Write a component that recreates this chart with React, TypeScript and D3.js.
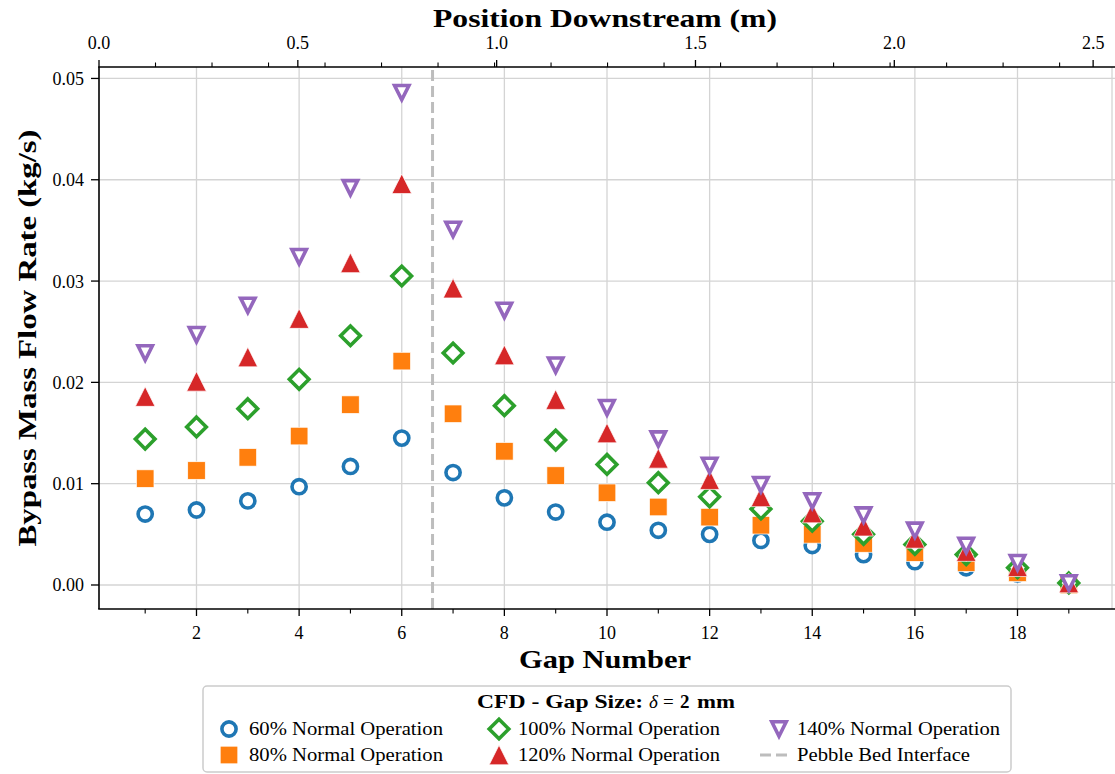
import React from 'react';
import * as d3 from 'd3';

// ---------- data ----------
const gapNumbers = [1, 2, 3, 4, 5, 6, 7, 8, 9, 10, 11, 12, 13, 14, 15, 16, 17, 18, 19];
const flow60 = [0.0070, 0.0074, 0.0083, 0.0097, 0.0117, 0.0145, 0.0111, 0.0086, 0.0072, 0.0062, 0.0054, 0.0050, 0.0044, 0.0039, 0.0030, 0.0023, 0.0017, 0.0011, 0.0001];
const flow80 = [0.0105, 0.0113, 0.0126, 0.0147, 0.0178, 0.0221, 0.0169, 0.0132, 0.0108, 0.0091, 0.0077, 0.0067, 0.0059, 0.0050, 0.0041, 0.0032, 0.0022, 0.0012, 0.0000];
const flow100 = [0.0144, 0.0156, 0.0174, 0.0203, 0.0246, 0.0305, 0.0229, 0.0177, 0.0143, 0.0119, 0.0101, 0.0087, 0.0075, 0.0063, 0.0050, 0.0040, 0.0030, 0.0017, 0.0002];
const flow120 = [0.0186, 0.0201, 0.0225, 0.0263, 0.0318, 0.0396, 0.0293, 0.0227, 0.0183, 0.0150, 0.0125, 0.0104, 0.0087, 0.0071, 0.0058, 0.0046, 0.0033, 0.0018, 0.0002];
const flow140 = [0.0229, 0.0247, 0.0276, 0.0324, 0.0392, 0.0486, 0.0351, 0.0271, 0.0217, 0.0175, 0.0144, 0.0118, 0.0099, 0.0083, 0.0069, 0.0054, 0.0039, 0.0022, 0.0002];

const seriesLabels = ['60% Normal Operation', '80% Normal Operation', '100% Normal Operation', '120% Normal Operation', '140% Normal Operation'];
const interfaceLabel = 'Pebble Bed Interface';
const interfaceGap = 6.6;

const bottomMajorTicks = [2, 4, 6, 8, 10, 12, 14, 16, 18];
const bottomMinorTicks = [1, 3, 5, 7, 9, 11, 13, 15, 17, 19];
const yTicks = [0, 0.01, 0.02, 0.03, 0.04, 0.05];
const yTickLabels = ['0.00', '0.01', '0.02', '0.03', '0.04', '0.05'];
const topMajorTicks = [0, 0.5, 1.0, 1.5, 2.0, 2.5];
const topTickLabels = ['0.0', '0.5', '1.0', '1.5', '2.0', '2.5'];
const topMinorTicks = [0.1421, 0.2842, 0.4263, 0.5684, 0.7105, 0.8526, 0.9947, 1.1368, 1.2789, 1.421, 1.5631, 1.7052, 1.8473, 1.9894, 2.1315, 2.2736, 2.4157];

// ---------- styles ----------
const W = 1115, H = 774;
const L = 99, R = 1115, T = 67, B = 609;
const FONT = "'Liberation Serif', 'DejaVu Serif', serif";
const COLORS = ['#1f77b4', '#ff7f0e', '#2ca02c', '#d62728', '#9467bd'];
const MARKERS = ['circle', 'square', 'diamond', 'triUp', 'triDown'];
const GRID = '#d4d4d4';
const SW = 3.6;

const x = d3.scaleLinear().domain([0.1, 19.9]).range([L, R]);
const xTop = d3.scaleLinear().domain([0, 2.555]).range([L, R]);
const y = d3.scaleLinear().domain([-0.00237, 0.05113]).range([B, T]);

function Marker({ type, cx, cy, color }: { type: string; cx: number; cy: number; color: string }) {
  if (type === 'circle') {
    return <circle cx={cx} cy={cy} r={7.1} fill="#fff" stroke={color} strokeWidth={SW} />;
  }
  if (type === 'square') {
    return <rect x={cx - 8.8} y={cy - 8.8} width={17.6} height={17.6} fill={color} stroke="#fff" strokeWidth={0.7} />;
  }
  if (type === 'diamond') {
    const s = 9.8;
    return (
      <path d={`M${cx},${cy - s}L${cx + s},${cy}L${cx},${cy + s}L${cx - s},${cy}Z`} fill="#fff" stroke={color} strokeWidth={SW} strokeLinejoin="miter" />
    );
  }
  if (type === 'triUp') {
    const s = 9.8;
    return (
      <path d={`M${cx},${cy - s}L${cx + s},${cy + s}L${cx - s},${cy + s}Z`} fill={color} stroke="#fff" strokeWidth={0.7} />
    );
  }
  const s = 7.2;
  return (
    <path d={`M${cx - s},${cy - s}L${cx + s},${cy - s}L${cx},${cy + s}Z`} fill="#fff" stroke={color} strokeWidth={SW} strokeLinejoin="miter" />
  );
}

export default function App() {
  const allSeries = [flow60, flow80, flow100, flow120, flow140];

  const legendCols = [
    { mx: 229, tx: 249, len: [194, 194] },
    { mx: 499, tx: 518, len: [202, 202] },
    { mx: 779, tx: 797, len: [203, 173] },
  ];
  const legendRows = [729, 755];
  const legendItems: { col: number; row: number; kind: string; idx: number; label: string }[] = [
    { col: 0, row: 0, kind: 'series', idx: 0, label: seriesLabels[0] },
    { col: 0, row: 1, kind: 'series', idx: 1, label: seriesLabels[1] },
    { col: 1, row: 0, kind: 'series', idx: 2, label: seriesLabels[2] },
    { col: 1, row: 1, kind: 'series', idx: 3, label: seriesLabels[3] },
    { col: 2, row: 0, kind: 'series', idx: 4, label: seriesLabels[4] },
    { col: 2, row: 1, kind: 'line', idx: -1, label: interfaceLabel },
  ];

  return (
    <svg width={W} height={H} style={{ position: 'absolute', left: 0, top: 0, background: '#fff' }} fontFamily={FONT}>
      <rect x={0} y={0} width={W} height={H} fill="#fff" />
      {/* grid */}
      <g>
        {bottomMajorTicks.map((t) => (
          <line key={'gx' + t} x1={x(t)} x2={x(t)} y1={T} y2={B} stroke={GRID} strokeWidth={1.3} />
        ))}
        {yTicks.map((t) => (
          <line key={'gy' + t} x1={L} x2={R} y1={y(t)} y2={y(t)} stroke={GRID} strokeWidth={1.3} />
        ))}
        <line x1={1112} x2={1112} y1={T} y2={B} stroke={GRID} strokeWidth={1.3} />
      </g>

      {/* interface line */}
      <line x1={x(interfaceGap)} x2={x(interfaceGap)} y1={B} y2={T} stroke="#bdbdbd" strokeWidth={3} strokeDasharray="11 5" />

      {/* markers */}
      {allSeries.map((vals, si) => (
        <g key={'s' + si}>
          {vals.map((v, i) => (
            <Marker key={i} type={MARKERS[si]} cx={x(gapNumbers[i])} cy={y(v)} color={COLORS[si]} />
          ))}
        </g>
      ))}

      {/* spines */}
      <line x1={L} x2={L} y1={T} y2={B} stroke="#000" strokeWidth={1.6} />
      <line x1={L - 0.8} x2={R} y1={B} y2={B} stroke="#000" strokeWidth={1.6} />
      <line x1={L - 0.8} x2={R} y1={T} y2={T} stroke="#000" strokeWidth={1.6} />

      {/* left axis */}
      {yTicks.map((t, i) => (
        <g key={'yt' + t}>
          <line x1={L - 8} x2={L} y1={y(t)} y2={y(t)} stroke="#000" strokeWidth={1.3} />
          <text x={L - 15} y={y(t) + 6.5} textAnchor="end" fontSize={18}>{yTickLabels[i]}</text>
        </g>
      ))}

      {/* bottom axis */}
      {bottomMajorTicks.map((t) => (
        <g key={'bt' + t}>
          <line x1={x(t)} x2={x(t)} y1={B} y2={B + 7} stroke="#000" strokeWidth={1.3} />
          <text x={x(t)} y={639} textAnchor="middle" fontSize={18}>{String(t)}</text>
        </g>
      ))}
      {bottomMinorTicks.map((t) => (
        <line key={'bm' + t} x1={x(t)} x2={x(t)} y1={B} y2={B + 4.5} stroke="#000" strokeWidth={1.1} />
      ))}

      {/* top axis */}
      {topMajorTicks.map((t, i) => (
        <g key={'tt' + t}>
          <line x1={xTop(t)} x2={xTop(t)} y1={T} y2={T - 7} stroke="#000" strokeWidth={1.3} />
          <text x={xTop(t)} y={49} textAnchor="middle" fontSize={18}>{topTickLabels[i]}</text>
        </g>
      ))}
      {topMinorTicks.map((t) => (
        <line key={'tm' + t} x1={xTop(t)} x2={xTop(t)} y1={T} y2={T - 4.5} stroke="#000" strokeWidth={1.1} />
      ))}

      {/* axis titles */}
      <text x={605} y={27} textAnchor="middle" fontSize={26} fontWeight="bold" textLength={344} lengthAdjust="spacingAndGlyphs">Position Downstream (m)</text>
      <text x={605} y={668} textAnchor="middle" fontSize={26} fontWeight="bold" textLength={172} lengthAdjust="spacingAndGlyphs">Gap Number</text>
      <text transform={`translate(36,${(T + B) / 2}) rotate(-90)`} textAnchor="middle" fontSize={26} fontWeight="bold" textLength={417} lengthAdjust="spacingAndGlyphs">Bypass Mass Flow Rate (kg/s)</text>

      {/* legend */}
      <rect x={203} y={686} width={808} height={86} rx={4} ry={4} fill="#fff" fillOpacity={0.8} stroke="#cccccc" strokeWidth={1.5} />
      <text x={477} y={708} fontSize={19} fontWeight="bold" textLength={166} lengthAdjust="spacingAndGlyphs">CFD - Gap Size:</text>
      <text x={649} y={708} fontSize={19} fontStyle="italic">δ</text>
      <text x={663} y={708} fontSize={19}>=</text>
      <text x={680} y={708} fontSize={19} fontWeight="bold">2</text>
      <text x={697} y={708} fontSize={19} fontWeight="bold" textLength={38} lengthAdjust="spacingAndGlyphs">mm</text>
      {legendItems.map((it, k) => {
        const col = legendCols[it.col];
        const cy = legendRows[it.row];
        return (
          <g key={'lg' + k}>
            {it.kind === 'series' ? (
              <Marker type={MARKERS[it.idx]} cx={col.mx} cy={cy} color={COLORS[it.idx]} />
            ) : (
              <line x1={760} x2={791} y1={cy} y2={cy} stroke="#bdbdbd" strokeWidth={3} strokeDasharray="11 5" />
            )}
            <text x={col.tx} y={cy + 6} fontSize={19} textLength={col.len[it.row]} lengthAdjust="spacingAndGlyphs">{it.label}</text>
          </g>
        );
      })}
    </svg>
  );
}
